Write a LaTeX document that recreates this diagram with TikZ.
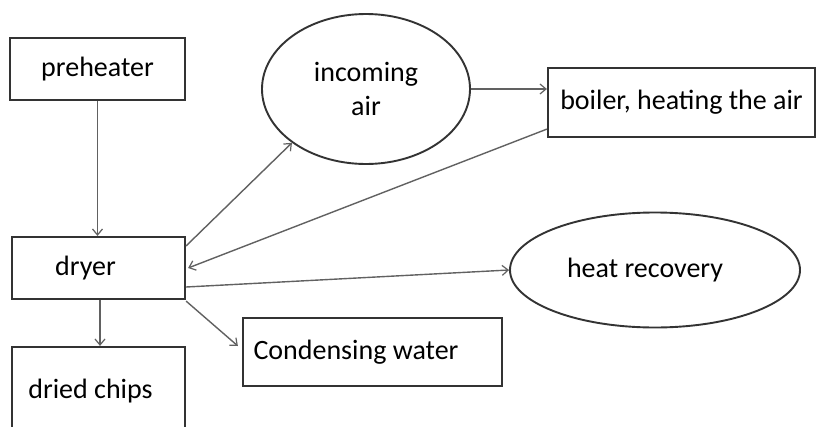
\documentclass[tikz,border=0pt]{standalone}
\usepackage{fontspec}
\setmainfont{Carlito}
\usetikzlibrary{shapes.geometric,arrows.meta,calc}
\begin{document}
\begin{tikzpicture}[x=1pt,y=-1pt,
  font=\fontsize{28}{34}\selectfont,
  box/.style={draw=black!80,line width=2.2pt,rectangle,inner sep=0pt,fill=white},
  oval/.style={draw=black!80,line width=1.9pt,ellipse,inner sep=0pt,fill=white,align=center},
  conn/.style={draw=black!62,line width=1.4pt,-{Straight Barb[length=6pt,width=10pt,line width=1.2pt]}}]
\clip (0,0) rectangle (817,426);
\fill[white] (0,0) rectangle (817,426);
\node[box,minimum width=175pt,minimum height=62pt] (pre) at (97.5,69) {\raisebox{4pt}{preheater}};
\node[box,minimum width=173pt,minimum height=62pt] (dryer) at (98.5,268) {\hspace*{-26pt}dryer};
\node[box,minimum width=173pt,minimum height=88pt] (chips) at (98.5,391) {\hspace*{-16pt}\raisebox{4pt}{dried chips}};
\node[box,minimum width=259pt,minimum height=68pt] (cond) at (372.5,352) {\hspace*{-33pt}\raisebox{4pt}{Condensing water}};
\node[box,minimum width=267pt,minimum height=69pt] (boiler) at (681.5,102.5) {\raisebox{-4pt}{boiler, heating the air}};
\node[oval,minimum width=208pt,minimum height=150pt] (air) at (366,89) {incoming\\air};
\node[oval,minimum width=290pt,minimum height=115pt] (heat) at (655,270) {\hspace*{-20pt}\raisebox{5pt}{heat recovery}};
\coordinate (dc) at ($(dryer.south)+(1.5,0)$);
\draw[conn] (pre.south) -- (pre.south |- dryer.north);
\draw[conn] (dc) -- (dc |- chips.north);
\draw[conn] ($(dryer.north east)+(0,10)$) -- (air.216);
\draw[conn] (air.east) -- (air.east -| boiler.west);
\draw[conn] ($(boiler.south west)+(0,-9)$) -- ($(dryer.east)+(2,0)$);
\draw[conn] ($(dryer.east)+(0,19)$) -- (heat.west);
\draw[conn] ($(dryer.south east)+(0,1)$) -- ($(cond.west)+(-4,-6)$);
\end{tikzpicture}
\end{document}
